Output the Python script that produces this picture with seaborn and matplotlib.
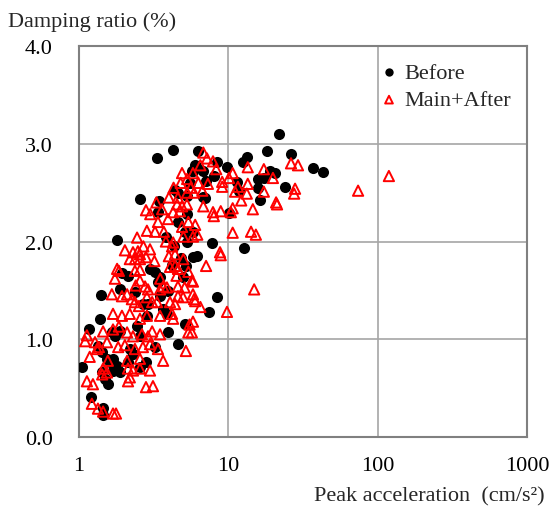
"""
Damping ratio vs. peak acceleration (Before / Main+After)
"""
import numpy as np
import pandas as pd
import matplotlib
matplotlib.use("Agg")
import matplotlib.pyplot as plt
import matplotlib.ticker as mticker
import seaborn as sns

# ============================
# Data
# ============================
before_acc = [
    21.9, 18.1, 26.3, 36.9, 43.0, 13.3, 12.5, 19.1, 20.5, 15.8,
    17.3, 23.9, 15.8, 16.3, 11.4, 11.8, 9.8, 8.4, 8.0, 7.1,
    7.0, 6.3, 6.1, 6.8, 5.8, 10.1, 7.8, 12.8, 6.2, 5.8,
    8.4, 7.4, 4.27, 3.33, 6.0, 5.7, 4.4, 4.6, 2.56, 3.43,
    5.3, 6.8, 5.5, 3.38, 1.80, 1.94, 2.13, 2.99, 3.23, 3.49,
    3.38, 1.40, 1.88, 2.37, 4.98, 3.49, 3.95, 1.38, 1.17, 5.13,
    1.66, 1.75, 1.88, 2.68, 2.90, 2.85, 2.45, 2.56, 3.66, 3.88,
    3.95, 4.6, 3.23, 1.05, 1.34, 1.43, 1.54, 1.61, 2.19, 2.30,
    2.13, 1.69, 1.80, 1.88, 1.69, 1.43, 1.49, 1.56, 2.81, 2.56,
    1.20, 1.45, 1.45, 3.8, 4.3, 4.8, 5.2, 4.2, 4.6, 5.3,
    5.3, 5.8, 5.1,
]
before_damp = [
    3.10, 2.93, 2.90, 2.75, 2.71, 2.86, 2.81, 2.72, 2.70, 2.64,
    2.65, 2.56, 2.55, 2.42, 2.61, 2.52, 2.76, 2.81, 2.67, 2.62,
    2.45, 2.93, 2.77, 2.72, 2.72, 2.29, 1.98, 1.93, 1.85, 1.84,
    1.43, 1.28, 2.94, 2.85, 2.78, 2.72, 2.53, 2.50, 2.43, 2.41,
    2.47, 2.46, 2.60, 2.30, 2.02, 1.68, 1.65, 1.72, 1.69, 1.64,
    1.59, 1.45, 1.51, 1.48, 1.64, 1.44, 1.49, 1.21, 1.10, 1.16,
    1.07, 1.03, 1.08, 1.36, 1.36, 1.24, 1.14, 1.03, 1.31, 1.26,
    1.07, 0.95, 0.92, 0.72, 0.93, 0.87, 0.80, 0.77, 0.90, 0.85,
    0.77, 0.80, 0.73, 0.66, 0.68, 0.66, 0.59, 0.54, 0.77, 0.72,
    0.41, 0.30, 0.22, 2.05, 1.95, 1.83, 1.75, 1.76, 2.20, 2.28,
    2.00, 2.10, 2.10,
]

after_acc = [
    6.8, 7.9, 8.3, 13.5, 17.3, 26.3, 29.3, 10.7, 10.1, 9.1,
    7.3, 9.1, 11.6, 13.5, 19.9, 28.0, 27.6, 17.3, 13.3, 11.1,
    12.2, 20.9, 21.2, 6.8, 14.6, 10.7, 10.4, 8.9, 7.9, 8.0,
    6.0, 6.2, 5.8, 10.7, 14.2, 15.3, 8.8, 8.9, 7.1, 5.8,
    14.9, 5.9, 6.5, 9.8, 5.8, 5.7, 119.0, 74.0, 4.9, 5.3,
    4.54, 4.90, 4.27, 4.74, 5.28, 2.81, 3.38, 3.95, 2.85, 3.23,
    2.45, 2.03, 2.30, 2.48, 2.56, 2.99, 3.82, 4.2, 4.4, 5.0,
    4.27, 2.19, 2.37, 2.56, 2.81, 1.80, 1.85, 2.37, 2.56, 1.74,
    2.56, 4.07, 4.4, 4.6, 2.77, 2.9, 3.66, 3.88, 3.49, 4.6,
    5.1, 5.7, 5.4, 1.66, 1.94, 2.1, 2.26, 2.37, 2.52, 2.85,
    3.09, 3.33, 4.07, 4.4, 4.6, 4.98, 5.8, 6.0, 1.69, 1.94,
    2.19, 2.56, 2.85, 3.49, 4.2, 4.27, 5.5, 5.4, 1.45, 1.69,
    1.85, 2.10, 2.30, 2.64, 2.90, 3.09, 3.49, 1.13, 1.28, 1.32,
    1.36, 1.54, 1.83, 2.03, 2.37, 2.68, 2.99, 3.38, 5.2, 1.18,
    1.56, 2.1, 2.56, 3.66, 1.45, 1.54, 2.13, 2.30, 2.56, 2.99,
    1.43, 2.19, 2.13, 1.13, 1.24, 2.81, 3.13, 1.22, 1.34, 1.45,
    1.69, 1.77, 1.10, 4.3, 4.8, 5.3, 5.6, 4.0, 4.6, 5.8,
    6.3, 6.7, 5.9, 7.2, 6.5, 3.3, 3.0, 3.6, 4.9, 5.4,
    5.0, 3.7, 4.0, 4.5, 3.2, 3.5, 2.7, 2.4,
]
after_damp = [
    2.91, 2.82, 2.74, 2.76, 2.74, 2.80, 2.78, 2.70, 2.65, 2.61,
    2.59, 2.56, 2.56, 2.59, 2.65, 2.54, 2.49, 2.51, 2.49, 2.51,
    2.42, 2.40, 2.38, 2.36, 2.33, 2.34, 2.30, 2.31, 2.30, 2.26,
    2.17, 2.07, 2.05, 2.09, 2.10, 2.07, 1.89, 1.86, 1.75, 1.59,
    1.51, 1.41, 1.33, 1.28, 1.18, 1.07, 2.67, 2.52, 2.70, 2.64,
    2.38, 2.36, 2.30, 2.31, 2.38, 2.32, 2.20, 2.23, 2.11, 2.10,
    2.04, 1.91, 1.89, 1.90, 1.87, 1.92, 2.00, 1.95, 1.87, 1.82,
    1.99, 1.82, 1.82, 1.82, 1.84, 1.72, 1.70, 1.70, 1.71, 1.62,
    1.60, 1.74, 1.75, 1.72, 1.54, 1.51, 1.54, 1.53, 1.51, 1.54,
    1.53, 1.60, 1.69, 1.46, 1.44, 1.46, 1.41, 1.38, 1.34, 1.43,
    1.38, 1.38, 1.38, 1.36, 1.44, 1.43, 1.46, 1.39, 1.26, 1.24,
    1.26, 1.21, 1.24, 1.24, 1.26, 1.21, 1.15, 1.07, 1.08, 1.10,
    1.13, 1.07, 1.03, 1.05, 1.03, 1.08, 1.05, 1.04, 0.97, 0.90,
    0.92, 0.97, 0.92, 0.94, 0.90, 0.92, 0.95, 0.90, 0.88, 0.82,
    0.78, 0.78, 0.80, 0.78, 0.70, 0.66, 0.70, 0.68, 0.70, 0.68,
    0.64, 0.61, 0.57, 0.57, 0.54, 0.51, 0.52, 0.34, 0.29, 0.26,
    0.24, 0.24, 0.98, 2.55, 2.60, 2.50, 2.55, 2.45, 2.45, 2.70,
    2.60, 2.52, 2.50, 2.85, 2.78, 2.40, 2.28, 2.33, 2.15, 2.20,
    2.05, 2.10, 1.85, 1.65, 1.80, 1.62, 1.95, 1.55,
]

x_ticks = [1, 10, 100, 1000]
y_ticks = [0.0, 1.0, 2.0, 3.0, 4.0]

df_before = pd.DataFrame({"acc": before_acc, "damp": before_damp})
df_after = pd.DataFrame({"acc": after_acc, "damp": after_damp})

# ============================
# Style
# ============================
sns.set_style("white")
plt.rcParams["font.family"] = ["Liberation Serif", "DejaVu Serif"]
plt.rcParams["font.size"] = 16

fig = plt.figure(figsize=(5.57, 5.10), dpi=100)
ax = fig.add_axes([0.1418, 0.1412, 0.8042, 0.7666])

# ============================
# Scatter
# ============================
sns.scatterplot(data=df_before, x="acc", y="damp", ax=ax,
                marker="o", color="black", edgecolor="black",
                s=64, linewidth=0, label="Before", zorder=3)
sns.scatterplot(data=df_after, x="acc", y="damp", ax=ax,
                marker="^", facecolor="none", edgecolor="#ff0000",
                s=55, linewidth=1.4, label="Main+After", zorder=4)

# ============================
# Axes
# ============================
ax.set_xscale("log")
ax.set_xlim(1, 1000)
ax.set_ylim(0, 4)
ax.set_xticks(x_ticks)
ax.xaxis.set_major_formatter(mticker.FuncFormatter(lambda v, p: f"{v:g}"))
ax.xaxis.set_minor_locator(mticker.LogLocator(base=10, subs=np.arange(2, 10)))
ax.xaxis.set_minor_formatter(mticker.NullFormatter())
ax.set_yticks(y_ticks)
ax.yaxis.set_major_formatter(mticker.FormatStrFormatter("%.1f"))

ax.set_xlabel("")
ax.set_ylabel("")
ax.grid(True, which="major", color="#a6a6a6", linewidth=1.2)
ax.set_axisbelow(True)
for sp in ax.spines.values():
    sp.set_color("#808080")
    sp.set_linewidth(1.5)

ax.tick_params(axis="both", which="both", direction="in", colors="#808080",
               labelcolor="black", labelsize=16)
ax.tick_params(axis="x", which="major", length=5, pad=14)
ax.tick_params(axis="x", which="minor", length=4)
ax.tick_params(axis="y", which="major", length=5, pad=19)

ax.legend(loc="upper left", bbox_to_anchor=(0.64, 1.0), frameon=False,
          fontsize=16, handlelength=0.6, handletextpad=0.4,
          labelspacing=0.3, borderpad=0.25, markerscale=0.75)

fig.text(0.014, 0.957, "Damping ratio (%)", fontsize=16, va="center", ha="left")
fig.text(0.978, 0.026, "Peak acceleration  (cm/s\u00b2)", fontsize=16,
         va="center", ha="right")

plt.savefig("out.png", dpi=100)
